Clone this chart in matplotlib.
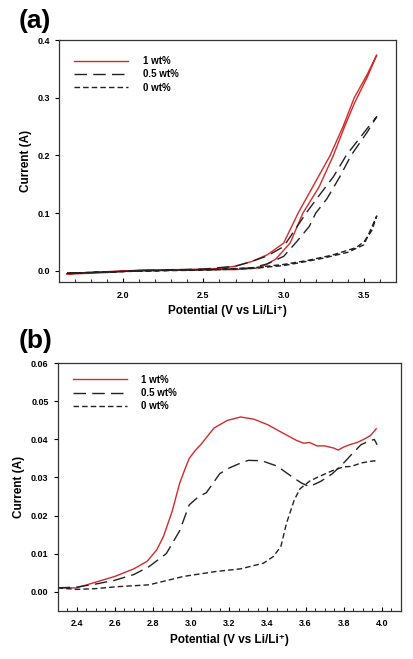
import numpy as np
import matplotlib.pyplot as plt
from matplotlib.ticker import MultipleLocator

plt.rcParams['font.family'] = ['Liberation Sans', 'DejaVu Sans']
plt.rcParams['font.weight'] = 'bold'

# Panel (a): forward and return sweeps
a_red_x = [1.65, 1.8, 2.0, 2.2, 2.4, 2.6, 2.7, 2.8, 2.9, 3.0, 3.09, 3.2, 3.29, 3.37, 3.44, 3.52, 3.58,
           3.52, 3.44, 3.38, 3.31, 3.22, 3.12, 3.04, 2.95, 2.85, 2.7, 2.5, 2.3, 2.1, 1.9, 1.65]
a_red_y = [-0.005, -0.003, 0.0, 0.001, 0.002, 0.004, 0.008, 0.016, 0.028, 0.048, 0.10, 0.155, 0.20, 0.25, 0.30, 0.34, 0.374,
           0.335, 0.29, 0.25, 0.20, 0.145, 0.10, 0.048, 0.02, 0.005, 0.002, 0.002, 0.002, 0.001, -0.003, -0.006]
a_half_x = [1.65, 1.9, 2.2, 2.5, 2.7, 2.8, 2.9, 3.0, 3.14, 3.22, 3.31, 3.39, 3.46, 3.53, 3.58,
            3.52, 3.42, 3.35, 3.27, 3.2, 3.16, 3.08, 3.0, 2.9, 2.8, 2.6, 2.3, 2.0, 1.65]
a_half_y = [-0.004, -0.002, 0.001, 0.003, 0.008, 0.016, 0.026, 0.042, 0.10, 0.13, 0.163, 0.20, 0.225, 0.25, 0.267,
            0.24, 0.20, 0.163, 0.125, 0.10, 0.077, 0.05, 0.025, 0.012, 0.005, 0.002, 0.001, -0.001, -0.005]
a_zero_x = [1.65, 1.9, 2.2, 2.5, 2.8, 3.0, 3.15, 3.3, 3.45, 3.5, 3.55, 3.58,
            3.5, 3.4, 3.25, 3.1, 3.0, 2.8, 2.5, 2.2, 1.9, 1.65]
a_zero_y = [-0.004, -0.002, 0.0, 0.002, 0.005, 0.011, 0.018, 0.027, 0.04, 0.05, 0.07, 0.095,
            0.045, 0.032, 0.022, 0.014, 0.009, 0.004, 0.001, 0.0, -0.002, -0.005]

# Panel (b)
b_red_x = [2.3, 2.4, 2.5, 2.6, 2.7, 2.77, 2.82, 2.855, 2.9, 2.94, 2.97, 2.99, 3.02, 3.05, 3.12, 3.19, 3.26, 3.33,
           3.4, 3.48, 3.55, 3.59, 3.62, 3.66, 3.7, 3.75, 3.77, 3.8, 3.83, 3.87, 3.9, 3.94, 3.97]
b_red_y = [0.001, 0.001, 0.0025, 0.004, 0.006, 0.008, 0.011, 0.0145, 0.021, 0.0285, 0.0325, 0.035, 0.037, 0.0386,
           0.043, 0.045, 0.0459, 0.0453, 0.0439, 0.0417, 0.0398, 0.039, 0.0392, 0.0383, 0.0383, 0.0377, 0.0372,
           0.038, 0.0386, 0.0392, 0.0399, 0.041, 0.0428]
b_half_x = [2.3, 2.4, 2.5, 2.6, 2.7, 2.78, 2.87, 2.94, 2.99, 3.04, 3.08, 3.15, 3.2, 3.26, 3.3, 3.37, 3.45,
            3.54, 3.58, 3.62, 3.68, 3.74, 3.79, 3.84, 3.89, 3.93, 3.96, 3.975]
b_half_y = [0.001, 0.0012, 0.002, 0.003, 0.0045, 0.0066, 0.010, 0.016, 0.0228, 0.025, 0.026, 0.031, 0.0325,
            0.0338, 0.0345, 0.0344, 0.033, 0.0298, 0.0285, 0.0276, 0.029, 0.031, 0.0333, 0.036, 0.0386, 0.0395,
            0.040, 0.0386]
b_zero_x = [2.3, 2.4, 2.5, 2.61, 2.78, 2.96, 3.13, 3.26, 3.38, 3.43, 3.47, 3.5, 3.54, 3.57, 3.62, 3.66,
            3.75, 3.8, 3.84, 3.89, 3.96, 3.975]
b_zero_y = [0.001, 0.0006, 0.0008, 0.0013, 0.0018, 0.004, 0.0053, 0.006, 0.0075, 0.0092, 0.0118, 0.018,
            0.024, 0.027, 0.029, 0.030, 0.032, 0.0328, 0.0329, 0.0338, 0.0344, 0.034]

labels = ['1 wt%', '0.5 wt%', '0 wt%']
red = '#d42a2a'
styles = [dict(color=red, lw=1.0, ls='-'),
          dict(color='#222222', lw=1.0, ls=(0, (9, 4.5))),
          dict(color='#222222', lw=1.0, ls=(0, (4, 2.2)))]

fig = plt.figure(figsize=(4.14, 6.59), dpi=100)
ax_a = fig.add_axes([0.1425, 0.5716, 0.814, 0.3677])
ax_b = fig.add_axes([0.139, 0.0733, 0.8296, 0.3754])

data_a = [(a_red_x, a_red_y), (a_half_x, a_half_y), (a_zero_x, a_zero_y)]
data_b = [(b_red_x, b_red_y), (b_half_x, b_half_y), (b_zero_x, b_zero_y)]

for ax, data, top in [(ax_a, data_a, 0.97), (ax_b, data_b, 0.99)]:
    for (x, y), lab, st in zip(data, labels, styles):
        ax.plot(x, y, label=lab, **st)
    ax.legend(loc='upper left', bbox_to_anchor=(0.02, top), frameon=False,
              handlelength=5.5, handletextpad=1.5, labelspacing=0.35,
              prop={'size': 7, 'weight': 'bold'})
    ax.set_xlabel('Potential (V vs Li/Li⁺)', fontsize=8.5, fontweight='bold')
    ax.set_ylabel('Current (A)', fontsize=8.5, fontweight='bold')
    ax.tick_params(axis='x', which='both', direction='in', labelsize=6.5, pad=6)
    ax.tick_params(axis='x', which='major', length=3)
    ax.tick_params(axis='x', which='minor', length=2)
    ax.tick_params(axis='y', direction='out', length=3, labelsize=6.5)
    for sp in ax.spines.values():
        sp.set_linewidth(0.9)
        sp.set_color('#333333')

ax_a.set_xlim(1.6, 3.7)
ax_a.set_ylim(-0.02, 0.4)
ax_a.xaxis.set_major_locator(MultipleLocator(0.5))
ax_a.xaxis.set_minor_locator(MultipleLocator(0.1))
ax_a.yaxis.set_major_locator(MultipleLocator(0.1))
ax_a.xaxis.set_major_formatter(plt.FormatStrFormatter('%.1f'))
ax_a.yaxis.set_major_formatter(plt.FormatStrFormatter('%.1f'))

ax_b.set_xlim(2.3, 4.1)
ax_b.set_ylim(-0.005, 0.06)
ax_b.xaxis.set_major_locator(MultipleLocator(0.2))
ax_b.xaxis.set_minor_locator(MultipleLocator(0.05))
ax_b.yaxis.set_major_locator(MultipleLocator(0.01))
ax_b.xaxis.set_major_formatter(plt.FormatStrFormatter('%.1f'))
ax_b.yaxis.set_major_formatter(plt.FormatStrFormatter('%.2f'))

fig.text(0.045, 0.968, '(a)', fontsize=19, fontweight='bold', va='center')
fig.text(0.045, 0.483, '(b)', fontsize=19, fontweight='bold', va='center')

fig.savefig('out.png', dpi=100)
